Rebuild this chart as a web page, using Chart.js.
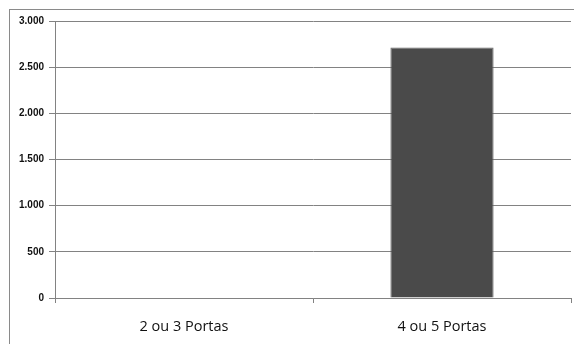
<!DOCTYPE html>
<html>
<head>
<meta charset="utf-8">
<script src="https://cdn.jsdelivr.net/npm/chart.js@4/dist/chart.umd.min.js"></script>
<style>
  html, body { margin: 0; padding: 0; background: #fff; }
  #wrap { position: relative; width: 574px; height: 344px; overflow: hidden; }
  #frame { position: absolute; left: 9px; top: 9px; width: 600px; height: 400px;
           border-left: 1px solid #8a8a8a; border-top: 1px solid #8a8a8a; box-sizing: border-box; }
  canvas { position: absolute; left: 0; top: 0; }
</style>
</head>
<body>
<div id="wrap">
  <div id="frame"></div>
  <canvas id="c" width="574" height="344"></canvas>
</div>
<script>
const categories = ['2 ou 3 Portas', '4 ou 5 Portas'];
const vehicles = [0, 2712];
const yTicks = [0, 500, 1000, 1500, 2000, 2500, 3000];

const fmt = v => v.toLocaleString('pt-BR');

new Chart(document.getElementById('c'), {
  type: 'bar',
  data: {
    labels: categories,
    datasets: [{
      data: vehicles,
      backgroundColor: '#4a4a4a',
      borderColor: '#666666',
      borderWidth: 1,
      categoryPercentage: 1,
      barPercentage: 0.4
    }]
  },
  options: {
    responsive: false,
    animation: false,
    devicePixelRatio: 1,
    layout: { padding: { left: 0, top: 21, right: 3, bottom: 0 } },
    plugins: { legend: { display: false }, tooltip: { enabled: false } },
    scales: {
      x: {
        grid: { display: true, drawOnChartArea: false, drawTicks: true, tickLength: 5, color: '#828282', offset: true },
        border: { display: true, color: '#828282', width: 1 },
        ticks: { color: '#111', font: { family: 'Open Sans', size: 14.5 }, padding: 15, maxRotation: 0 },
        afterFit: s => { s.height = 46; }
      },
      y: {
        min: 0, max: 3000,
        afterBuildTicks: s => { s.ticks = yTicks.map(v => ({ value: v })); },
        grid: { color: '#828282', lineWidth: 1, drawTicks: true, tickLength: 6 },
        border: { display: true, color: '#828282', width: 1 },
        ticks: { color: '#111', font: { family: 'Liberation Sans', size: 10, weight: 'bold' }, padding: 5,
                 callback: v => fmt(v) },
        afterFit: s => { s.width = 55; }
      }
    }
  }
});
</script>
</body>
</html>
